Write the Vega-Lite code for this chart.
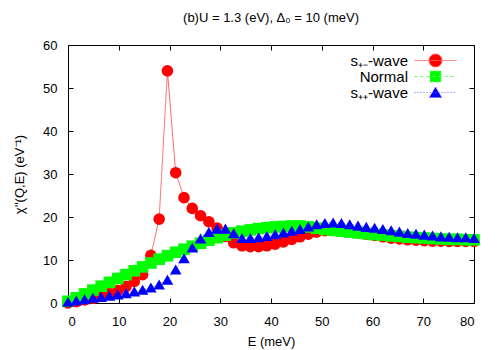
{
  "$schema": "https://vega.github.io/schema/vega-lite/v6.json",
  "autosize": "none",
  "width": 406,
  "height": 258,
  "padding": {"left": 68, "top": 45, "right": 26, "bottom": 47},
  "background": "white",
  "title": {"text": "(b)U = 1.3 (eV), Δ₀ = 10 (meV)", "fontSize": 13, "fontWeight": "normal", "font": "Liberation Sans", "color": "black", "offset": 14},
  "config": {
    "view": {"stroke": "black", "strokeWidth": 1},
    "axis": {"domain": false, "grid": false, "tickColor": "black", "tickSize": -5, "labelFont": "Liberation Sans", "labelFontSize": 13, "labelColor": "black", "titleFont": "Liberation Sans", "titleFontSize": 13, "titleFontWeight": "normal", "titleColor": "black"},
    "legend": {"labelFont": "Liberation Sans", "labelFontSize": 15, "labelColor": "black", "title": null, "orient": "none", "legendX": 360, "legendY": 8, "padding": 0, "labelAlign": "right", "labelOffset": -35, "symbolSize": 100, "symbolStrokeWidth": 1, "symbolOpacity": 1, "rowPadding": -6}
  },
  "data": {"values": [
    {"E":0,"v":0,"s":"s₊₋-wave"},{"E":1.633,"v":0.3,"s":"s₊₋-wave"},{"E":3.265,"v":0.7,"s":"s₊₋-wave"},{"E":4.898,"v":1.1,"s":"s₊₋-wave"},{"E":6.531,"v":1.6,"s":"s₊₋-wave"},{"E":8.163,"v":2.2,"s":"s₊₋-wave"},{"E":9.796,"v":2.9,"s":"s₊₋-wave"},{"E":11.429,"v":3.8,"s":"s₊₋-wave"},{"E":13.061,"v":5.0,"s":"s₊₋-wave"},{"E":14.694,"v":6.6,"s":"s₊₋-wave"},
    {"E":16.327,"v":11.1,"s":"s₊₋-wave"},{"E":17.959,"v":19.5,"s":"s₊₋-wave"},{"E":19.592,"v":54,"s":"s₊₋-wave"},{"E":21.224,"v":30.3,"s":"s₊₋-wave"},{"E":22.857,"v":24.5,"s":"s₊₋-wave"},{"E":24.49,"v":22.0,"s":"s₊₋-wave"},{"E":26.122,"v":20.3,"s":"s₊₋-wave"},{"E":27.755,"v":18.9,"s":"s₊₋-wave"},{"E":29.388,"v":17.4,"s":"s₊₋-wave"},{"E":31.02,"v":15.5,"s":"s₊₋-wave"},
    {"E":32.653,"v":14.0,"s":"s₊₋-wave"},{"E":34.286,"v":13.3,"s":"s₊₋-wave"},{"E":35.918,"v":13.1,"s":"s₊₋-wave"},{"E":37.551,"v":13.1,"s":"s₊₋-wave"},{"E":39.184,"v":13.3,"s":"s₊₋-wave"},{"E":40.816,"v":13.7,"s":"s₊₋-wave"},{"E":42.449,"v":14.2,"s":"s₊₋-wave"},{"E":44.082,"v":14.8,"s":"s₊₋-wave"},{"E":45.714,"v":15.4,"s":"s₊₋-wave"},{"E":47.347,"v":16.0,"s":"s₊₋-wave"},
    {"E":48.98,"v":16.5,"s":"s₊₋-wave"},{"E":50.612,"v":16.8,"s":"s₊₋-wave"},{"E":52.245,"v":16.9,"s":"s₊₋-wave"},{"E":53.878,"v":16.8,"s":"s₊₋-wave"},{"E":55.51,"v":16.6,"s":"s₊₋-wave"},{"E":57.143,"v":16.3,"s":"s₊₋-wave"},{"E":58.776,"v":16.0,"s":"s₊₋-wave"},{"E":60.408,"v":15.7,"s":"s₊₋-wave"},{"E":62.041,"v":15.4,"s":"s₊₋-wave"},{"E":63.673,"v":15.1,"s":"s₊₋-wave"},
    {"E":65.306,"v":14.9,"s":"s₊₋-wave"},{"E":66.939,"v":14.7,"s":"s₊₋-wave"},{"E":68.571,"v":14.6,"s":"s₊₋-wave"},{"E":70.204,"v":14.5,"s":"s₊₋-wave"},{"E":71.837,"v":14.4,"s":"s₊₋-wave"},{"E":73.469,"v":14.4,"s":"s₊₋-wave"},{"E":75.102,"v":14.3,"s":"s₊₋-wave"},{"E":76.735,"v":14.3,"s":"s₊₋-wave"},{"E":78.367,"v":14.3,"s":"s₊₋-wave"},{"E":80,"v":14.3,"s":"s₊₋-wave"},
    {"E":0,"v":0.4,"s":"Normal"},{"E":1.633,"v":1.2,"s":"Normal"},{"E":3.265,"v":2.1,"s":"Normal"},{"E":4.898,"v":3.0,"s":"Normal"},{"E":6.531,"v":3.9,"s":"Normal"},{"E":8.163,"v":4.8,"s":"Normal"},{"E":9.796,"v":5.7,"s":"Normal"},{"E":11.429,"v":6.6,"s":"Normal"},{"E":13.061,"v":7.5,"s":"Normal"},{"E":14.694,"v":8.4,"s":"Normal"},
    {"E":16.327,"v":9.3,"s":"Normal"},{"E":17.959,"v":10.2,"s":"Normal"},{"E":19.592,"v":11.0,"s":"Normal"},{"E":21.224,"v":11.8,"s":"Normal"},{"E":22.857,"v":12.5,"s":"Normal"},{"E":24.49,"v":13.2,"s":"Normal"},{"E":26.122,"v":13.9,"s":"Normal"},{"E":27.755,"v":14.6,"s":"Normal"},{"E":29.388,"v":15.2,"s":"Normal"},{"E":31.02,"v":15.8,"s":"Normal"},
    {"E":32.653,"v":16.3,"s":"Normal"},{"E":34.286,"v":16.7,"s":"Normal"},{"E":35.918,"v":17.0,"s":"Normal"},{"E":37.551,"v":17.3,"s":"Normal"},{"E":39.184,"v":17.5,"s":"Normal"},{"E":40.816,"v":17.7,"s":"Normal"},{"E":42.449,"v":17.8,"s":"Normal"},{"E":44.082,"v":17.9,"s":"Normal"},{"E":45.714,"v":17.9,"s":"Normal"},{"E":47.347,"v":17.7,"s":"Normal"},
    {"E":48.98,"v":17.4,"s":"Normal"},{"E":50.612,"v":17.1,"s":"Normal"},{"E":52.245,"v":16.9,"s":"Normal"},{"E":53.878,"v":16.7,"s":"Normal"},{"E":55.51,"v":16.5,"s":"Normal"},{"E":57.143,"v":16.3,"s":"Normal"},{"E":58.776,"v":16.1,"s":"Normal"},{"E":60.408,"v":15.9,"s":"Normal"},{"E":62.041,"v":15.8,"s":"Normal"},{"E":63.673,"v":15.6,"s":"Normal"},
    {"E":65.306,"v":15.5,"s":"Normal"},{"E":66.939,"v":15.3,"s":"Normal"},{"E":68.571,"v":15.2,"s":"Normal"},{"E":70.204,"v":15.1,"s":"Normal"},{"E":71.837,"v":15.0,"s":"Normal"},{"E":73.469,"v":14.9,"s":"Normal"},{"E":75.102,"v":14.8,"s":"Normal"},{"E":76.735,"v":14.8,"s":"Normal"},{"E":78.367,"v":14.7,"s":"Normal"},{"E":80,"v":14.7,"s":"Normal"},
    {"E":0,"v":0.3,"s":"s₊₊-wave"},{"E":1.633,"v":0.6,"s":"s₊₊-wave"},{"E":3.265,"v":0.9,"s":"s₊₊-wave"},{"E":4.898,"v":1.2,"s":"s₊₊-wave"},{"E":6.531,"v":1.4,"s":"s₊₊-wave"},{"E":8.163,"v":1.7,"s":"s₊₊-wave"},{"E":9.796,"v":2.0,"s":"s₊₊-wave"},{"E":11.429,"v":2.3,"s":"s₊₊-wave"},{"E":13.061,"v":2.7,"s":"s₊₊-wave"},{"E":14.694,"v":3.1,"s":"s₊₊-wave"},
    {"E":16.327,"v":3.6,"s":"s₊₊-wave"},{"E":17.959,"v":4.3,"s":"s₊₊-wave"},{"E":19.592,"v":5.4,"s":"s₊₊-wave"},{"E":21.224,"v":7.8,"s":"s₊₊-wave"},{"E":22.857,"v":10.4,"s":"s₊₊-wave"},{"E":24.49,"v":12.9,"s":"s₊₊-wave"},{"E":26.122,"v":15.0,"s":"s₊₊-wave"},{"E":27.755,"v":16.5,"s":"s₊₊-wave"},{"E":29.388,"v":17.3,"s":"s₊₊-wave"},{"E":31.02,"v":17.3,"s":"s₊₊-wave"},
    {"E":32.653,"v":16.2,"s":"s₊₊-wave"},{"E":34.286,"v":15.1,"s":"s₊₊-wave"},{"E":35.918,"v":15.1,"s":"s₊₊-wave"},{"E":37.551,"v":15.3,"s":"s₊₊-wave"},{"E":39.184,"v":15.6,"s":"s₊₊-wave"},{"E":40.816,"v":16.0,"s":"s₊₊-wave"},{"E":42.449,"v":16.4,"s":"s₊₊-wave"},{"E":44.082,"v":16.8,"s":"s₊₊-wave"},{"E":45.714,"v":17.2,"s":"s₊₊-wave"},{"E":47.347,"v":17.8,"s":"s₊₊-wave"},
    {"E":48.98,"v":18.3,"s":"s₊₊-wave"},{"E":50.612,"v":18.6,"s":"s₊₊-wave"},{"E":52.245,"v":18.7,"s":"s₊₊-wave"},{"E":53.878,"v":18.6,"s":"s₊₊-wave"},{"E":55.51,"v":18.3,"s":"s₊₊-wave"},{"E":57.143,"v":18.0,"s":"s₊₊-wave"},{"E":58.776,"v":17.7,"s":"s₊₊-wave"},{"E":60.408,"v":17.5,"s":"s₊₊-wave"},{"E":62.041,"v":17.2,"s":"s₊₊-wave"},{"E":63.673,"v":16.9,"s":"s₊₊-wave"},
    {"E":65.306,"v":16.6,"s":"s₊₊-wave"},{"E":66.939,"v":16.3,"s":"s₊₊-wave"},{"E":68.571,"v":16.1,"s":"s₊₊-wave"},{"E":70.204,"v":15.9,"s":"s₊₊-wave"},{"E":71.837,"v":15.7,"s":"s₊₊-wave"},{"E":73.469,"v":15.5,"s":"s₊₊-wave"},{"E":75.102,"v":15.4,"s":"s₊₊-wave"},{"E":76.735,"v":15.3,"s":"s₊₊-wave"},{"E":78.367,"v":15.3,"s":"s₊₊-wave"},{"E":80,"v":15.1,"s":"s₊₊-wave"}
  ]},
  "resolve": {"axis": {"x": "independent", "y": "independent"}, "scale": {"shape": "independent", "color": "independent", "fill": "independent", "stroke": "independent", "strokeDash": "independent"}},
  "layer": [
    {
      "mark": {"type": "line", "strokeWidth": 1, "opacity": 0.6},
      "encoding": {
        "x": {"field": "E", "type": "quantitative", "scale": {"domain": [0, 80], "nice": false}, "axis": {"orient": "bottom", "values": [0,10,20,30,40,50,60,70,80], "labelPadding": 17, "title": "E (meV)", "titlePadding": 7}},
        "y": {"field": "v", "type": "quantitative", "scale": {"domain": [0, 60], "nice": false}, "axis": {"orient": "left", "values": [0,10,20,30,40,50,60], "labelPadding": 16, "title": "χ''(Q,E) (eV⁻¹)", "titlePadding": 16}},
        "color": {"field": "s", "type": "nominal", "scale": {"domain": ["s₊₋-wave", "Normal", "s₊₊-wave"], "range": ["#ff0000", "#00ff00", "#0000ff"]}, "legend": null},
        "strokeDash": {"field": "s", "type": "nominal", "scale": {"domain": ["s₊₋-wave", "Normal", "s₊₊-wave"], "range": [[1, 0], [3, 3], [1, 2]]}, "legend": null}
      }
    },
    {
      "mark": {"type": "point", "filled": true, "opacity": 1, "strokeWidth": 0},
      "encoding": {
        "x": {"field": "E", "type": "quantitative", "axis": null},
        "y": {"field": "v", "type": "quantitative", "axis": null},
        "color": {"field": "s", "type": "nominal", "scale": {"domain": ["s₊₋-wave", "Normal", "s₊₊-wave"], "range": ["#ff0000", "#00ff00", "#0000ff"]}, "legend": null},
        "shape": {"field": "s", "type": "nominal", "scale": {"domain": ["s₊₋-wave", "Normal", "s₊₊-wave"], "range": ["circle", "square", "triangle-up"]}, "legend": null},
        "size": {"value": 135}
      }
    },
    {
      "transform": [{"filter": "datum.E > 1000"}],
      "mark": {"type": "point", "filled": true, "strokeWidth": 1, "opacity": 1},
      "encoding": {
        "x": {"field": "E", "type": "quantitative", "axis": {"orient": "top", "labels": false, "title": null, "values": [0,10,20,30,40,50,60,70,80]}},
        "y": {"field": "v", "type": "quantitative", "axis": {"orient": "right", "labels": false, "title": null, "values": [0,10,20,30,40,50,60]}},
        "fill": {"field": "s", "type": "nominal", "scale": {"domain": ["s₊₋-wave", "Normal", "s₊₊-wave"], "range": ["#ff0000", "#00ff00", "#0000ff"]}},
        "stroke": {"field": "s", "type": "nominal", "scale": {"domain": ["s₊₋-wave", "Normal", "s₊₊-wave"], "range": ["#ff6666", "#66ff66", "#6666ff"]}},
        "shape": {"field": "s", "type": "nominal", "scale": {"domain": ["s₊₋-wave", "Normal", "s₊₊-wave"], "range": [
          "M-4.2,0L4.2,0M1.3,0A1.3,1.3 0 1,1 -1.3,0A1.3,1.3 0 1,1 1.3,0Z",
          "M-4.2,0L4.2,0M-1.1,-1.1L1.1,-1.1L1.1,1.1L-1.1,1.1Z",
          "M-4.2,0L4.2,0M0,-1.1L1.25,1.0L-1.25,1.0Z"]}},
        "strokeDash": {"field": "s", "type": "nominal", "scale": {"domain": ["s₊₋-wave", "Normal", "s₊₊-wave"], "range": [[1, 0], [3, 3], [1, 2]]}}
      }
    }
  ]
}
